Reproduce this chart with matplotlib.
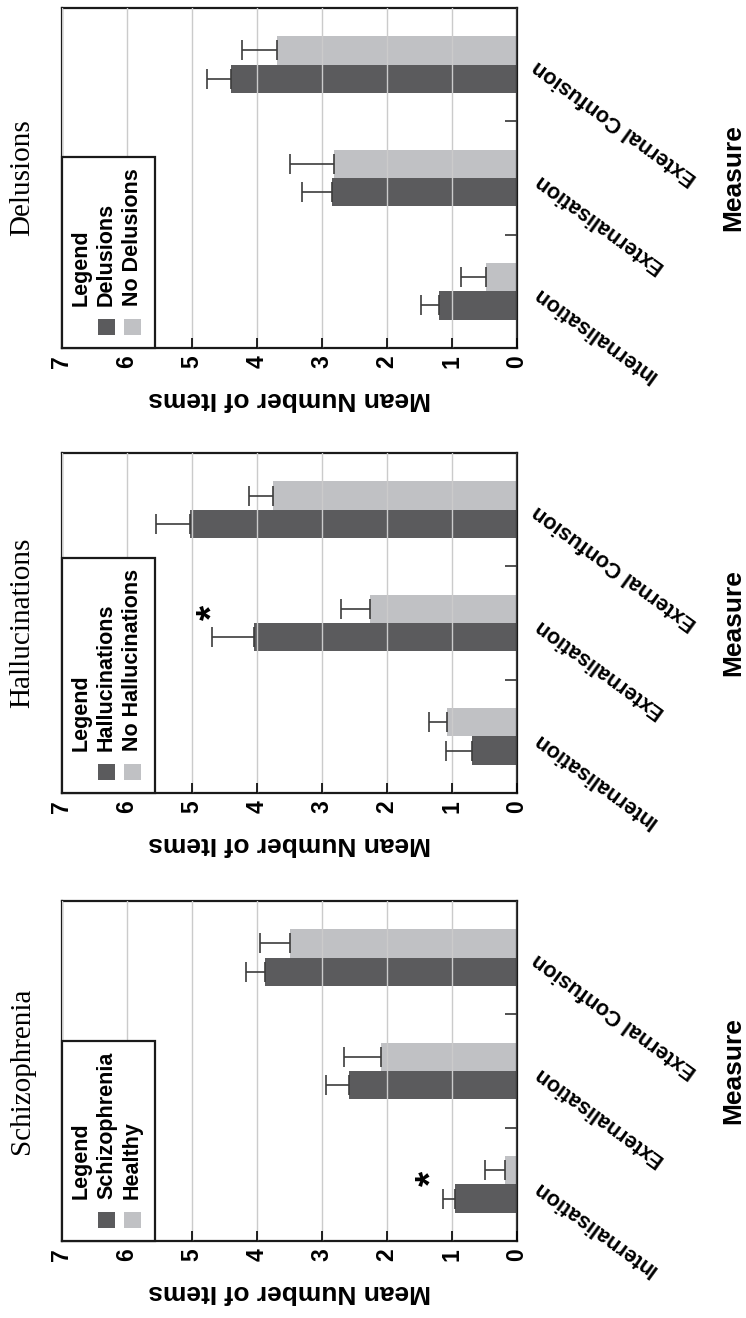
import numpy as np
import matplotlib
matplotlib.use("Agg")
import matplotlib.pyplot as plt
from matplotlib.patches import Rectangle

plt.rcParams['font.family'] = ['Liberation Sans', 'DejaVu Sans']
plt.rcParams['font.weight'] = 'bold'

measures = ['Internalisation', 'Externalisation', 'External Confusion']

# panels from bottom to top: Schizophrenia, Hallucinations, Delusions
titles = ['Schizophrenia', 'Hallucinations', 'Delusions']
first_labels = ['Schizophrenia', 'Hallucinations', 'Delusions']
second_labels = ['Healthy', 'No Hallucinations', 'No Delusions']

first_means = [[0.95, 2.59, 3.88],
               [0.69, 4.04, 5.03],
               [1.20, 2.84, 4.40]]
first_err = [[0.19, 0.35, 0.29],
             [0.40, 0.66, 0.53],
             [0.27, 0.47, 0.37]]
second_means = [[0.19, 2.10, 3.50],
                [1.07, 2.26, 3.76],
                [0.48, 2.82, 3.70]]
second_err = [[0.31, 0.56, 0.46],
              [0.28, 0.45, 0.36],
              [0.38, 0.67, 0.53]]

# significance marks: (measure position, value position) or None
stars = [(0.05, 1.31), (1.09, 4.67), None]

dark = '#5b5b5d'
light = '#c0c1c4'
err_col = '#3c3c3c'

fig = plt.figure(figsize=(7.46, 13.18), dpi=100)
bottoms = [0.0584, 0.3983, 0.7360]

for i in range(3):
    ax = fig.add_axes([0.0831, bottoms[i], 0.610, 0.258])
    y = np.arange(len(measures))
    ax.barh(y - 0.125, first_means[i], height=0.25, color=dark, zorder=1)
    ax.barh(y + 0.125, second_means[i], height=0.25, color=light, zorder=1)
    ax.errorbar(first_means[i], y - 0.125, xerr=[np.zeros(3), first_err[i]],
                fmt='none', ecolor=err_col, elinewidth=1.2, capsize=7.5,
                capthick=1.2, zorder=3)
    ax.errorbar(second_means[i], y + 0.125, xerr=[np.zeros(3), second_err[i]],
                fmt='none', ecolor=err_col, elinewidth=1.2, capsize=7.5,
                capthick=1.2, zorder=3)

    ax.set_xlim(7, 0)
    ax.set_ylim(-0.5, 2.5)
    ax.set_axisbelow(False)
    ax.grid(axis='x', color='#cbcbcb', linewidth=1.0, zorder=2)

    ax.set_xticks(np.arange(8), labels=[str(v) for v in range(8)],
                  rotation=90, fontsize=16.5, fontweight='bold')
    ax.tick_params(axis='x', direction='in', length=7, width=1.2, pad=5)

    ax.yaxis.tick_right()
    ax.set_yticks(y, labels=measures, rotation=144, rotation_mode='anchor',
                  ha='right', va='center', fontsize=15.5, fontweight='bold')
    ax.set_yticks([0.5, 1.5], minor=True)
    ax.tick_params(axis='y', which='major', length=0, pad=13)
    ax.tick_params(axis='y', which='minor', direction='in', length=9,
                   width=1.2, color='#333333', right=True, left=False)

    for s in ax.spines.values():
        s.set_linewidth(1.6)
        s.set_color('#1a1a1a')

    ax.set_xlabel('Mean Number of Items', rotation=180, fontsize=19,
                  fontweight='bold', va='center')
    ax.xaxis.set_label_coords(0.5, -0.15)
    ax.yaxis.set_label_position('right')
    ax.set_ylabel('Measure', rotation=90, fontsize=19, fontweight='bold',
                  va='center')
    ax.yaxis.set_label_coords(1.475, 0.5)

    ax.text(-0.087, 0.5, titles[i], transform=ax.transAxes, rotation=90,
            ha='center', va='center', fontsize=21, fontweight='normal',
            family='Liberation Serif')

    if stars[i] is not None:
        ax.text(stars[i][1], stars[i][0], '*', rotation=90, ha='center',
                va='center', fontsize=28, fontweight='bold', zorder=4)

    # hand-drawn legend, rotated like the rest of the chart
    t0 = ax.text(0.042, 0.124, 'Legend', transform=ax.transAxes, rotation=90,
                 ha='center', va='bottom', fontsize=15.5, zorder=6)
    t1 = ax.text(0.098, 0.124, first_labels[i], transform=ax.transAxes,
                 rotation=90, ha='center', va='bottom', fontsize=15.5, zorder=6)
    t2 = ax.text(0.154, 0.124, second_labels[i], transform=ax.transAxes,
                 rotation=90, ha='center', va='bottom', fontsize=15.5, zorder=6)
    ax.add_patch(Rectangle((0.080, 0.038), 0.037, 0.047, transform=ax.transAxes,
                           facecolor=dark, edgecolor='none', zorder=6))
    ax.add_patch(Rectangle((0.136, 0.038), 0.037, 0.047, transform=ax.transAxes,
                           facecolor=light, edgecolor='none', zorder=6))
    fig.canvas.draw()
    inv = ax.transAxes.inverted()
    top = max(inv.transform(t.get_window_extent())[1, 1] for t in (t0, t1, t2))
    ax.add_patch(Rectangle((0, 0), 0.204, top + 0.032, transform=ax.transAxes,
                           facecolor='white', edgecolor='#1a1a1a',
                           linewidth=1.6, zorder=5, clip_on=False))

fig.savefig('out.png', dpi=100)
